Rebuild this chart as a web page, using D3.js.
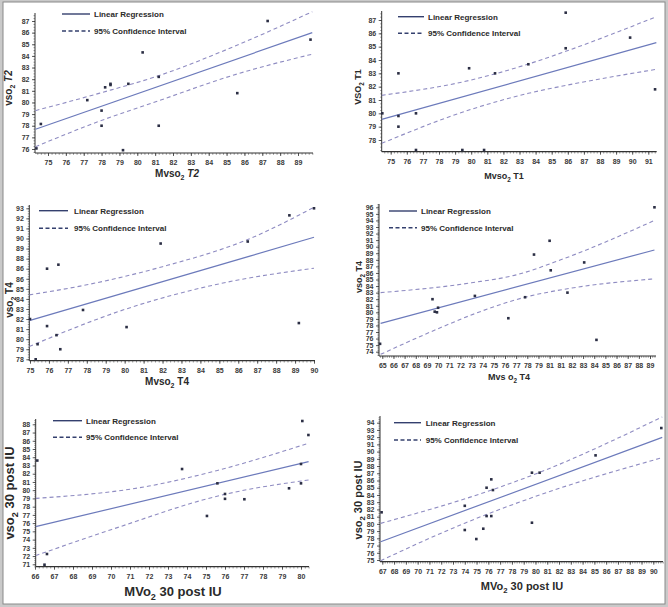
<!DOCTYPE html>
<html><head><meta charset="utf-8">
<script src="https://cdn.jsdelivr.net/npm/d3@7"></script>
<style>
body{margin:0;background:#fff}
svg{display:block}
text{font-family:"Liberation Sans Narrow","Arial Narrow","Liberation Sans",Arial,sans-serif;}
</style>
</head><body>
<svg id="c" width="668" height="607"></svg>
<script>
// ---------- DATA ----------
// Panel 1: Mvso2 T2 vs vso2 T2
const p1X = [74.35,74.6,77.2,78.0,78.0,78.2,78.5,78.5,79.5,79.2,80.3,81.2,81.2,85.6,87.3,89.7];
const p1Y = [76.05,78.15,80.2,79.3,78.0,81.3,81.5,81.6,81.6,75.9,84.3,82.2,78.0,80.8,87.0,85.4];
const p1Reg = [[74.3,77.7],[89.8,86.0]];
const p1Upper = [[74.3,79.3],[77.9,80.8],[81.2,82.3],[85.4,84.8],[89.8,87.8]];
const p1Lower = [[74.3,76.2],[77.9,78.4],[81.2,80.15],[85.6,82.45],[89.8,84.15]];
const p1XTicks = ["75","76","77","78","79","80","81","82","83","84","85","86","87","88","89"];
const p1YTicks = ["76","77","78","79","80","81","82","83","84","85","86","87"];

// Panel 2: Mvso2 T1 vs vso2 T1
const p2X = [74.48,75.48,75.48,75.48,76.57,76.57,79.45,79.87,80.8,81.48,83.55,85.87,85.87,89.87,91.42];
const p2Y = [80.0,83.0,79.8,79.0,80.0,77.25,77.25,83.38,77.25,83.0,83.68,87.55,84.88,85.68,81.8];
const p2Reg = [[74.44,79.55],[91.5,85.3]];
const p2Upper = [[74.44,81.35],[80,82.5],[83.55,83.7],[85.87,84.65],[91.5,87.25]];
const p2Lower = [[74.44,77.75],[80,80.3],[83.55,81.5],[85.9,82.1],[91.5,83.3]];
const p2XTicks = ["75","76","77","78","79","80","81","82","83","84","85","86","87","88","89","90","91"];
const p2YTicks = ["78","79","80","81","82","83","84","85","86","87"];

// Panel 3: Mvso2 T4 vs vso2 T4
const p3X = [75.0,75.3,75.4,75.9,75.9,76.4,76.5,76.6,77.8,80.1,81.9,86.5,88.7,89.2,90.0];
const p3Y = [82.0,78.0,79.5,87.0,81.3,80.4,87.4,79.0,82.9,81.2,89.5,89.7,92.3,81.6,93.0];
const p3Reg = [[74.96,81.84],[90.0,90.12]];
const p3Upper = [[74.96,84.4],[78,85.4],[82,87.2],[86.5,89.9],[90,93.1]];
const p3Lower = [[74.96,79.26],[76.4,80.4],[80,82.95],[85,85.5],[90,87.05]];
const p3XTicks = ["75","76","77","78","79","80","81","82","83","84","85","86","87","88","89","90"];
const p3YTicks = ["78","79","80","81","82","83","84","85","86","86","88","89","90","91","92","93"];

// Panel 4: Mvso2 T4 vs vso2 T4 (second group)
const p4X = [64.8,69.5,69.7,69.9,70.0,73.3,76.3,77.8,78.6,80.0,80.1,81.6,83.1,84.2,89.4];
const p4Y = [75.2,82.0,80.1,80.0,80.7,82.5,79.1,82.3,88.8,90.9,86.4,83.0,87.6,75.8,96.0];
const p4Reg = [[64.85,78.32],[89.4,89.5]];
const p4Upper = [[64.85,83.0],[73,84.5],[77,85.7],[81,88.0],[89.4,94.0]];
const p4Lower = [[64.85,73.6],[70,77.5],[73.3,79.8],[77.8,82.3],[82,83.7],[89.4,85.1]];
const p4XTicks = ["65","66","67","68","69","70","71","72","73","74","75","76","77","78","79","81","81","82","83","84","85","86","87","88","89"];
const p4YTicks = ["74","75","76","77","78","79","80","81","82","83","84","85","86","87","88","89","90","91","92","93","94","95","96"];

// Panel 5: MVo2 30 post IU vs vso2 30 post IU
const p5X = [66.12,66.5,66.63,73.74,75.05,75.6,76.0,76.0,77.02,79.37,80.0,80.0,80.07,80.39];
const p5Y = [83.6,70.95,72.25,82.57,76.87,80.83,79.54,78.95,78.9,80.23,83.18,80.83,88.4,86.7];
const p5Reg = [[66.03,75.57],[80.4,83.47]];
const p5Upper = [[66.03,79.0],[72,80.5],[75.6,82.4],[80.4,85.7]];
const p5Lower = [[66.03,72.05],[70,75.2],[76,79.5],[80.4,81.24]];
const p5XTicks = ["66","67","68","69","70","71","72","73","74","75","76","77","78","79","80"];
const p5YTicks = ["71","72","73","74","75","76","77","78","79","80","81","82","83","84","85","86","87","88"];

// Panel 6: MVo2 30 post IU vs vso2 30 post IU (second group)
const p6X = [66.94,74.0,74.0,74.98,75.57,75.85,75.85,76.25,76.25,76.39,79.7,79.7,80.35,85.1,90.68];
const p6Y = [81.6,82.5,79.15,77.9,79.33,85.0,81.08,86.16,81.08,84.68,87.08,80.16,87.08,89.48,93.26];
const p6Reg = [[66.86,77.53],[90.76,91.97]];
const p6Upper = [[66.86,80.07],[76.3,84.7],[80,86.9],[90.76,94.8]];
const p6Lower = [[66.86,74.9],[74,80.1],[80,83.8],[90.76,89.16]];
const p6XTicks = ["67","68","69","70","71","72","73","74","75","76","77","78","79","80","81","82","83","84","85","86","87","88","89","90"];
const p6YTicks = ["75","76","77","78","79","80","81","82","83","84","85","86","87","88","89","90","91","92","93","94"];

const legendLabels = ["Linear Regression","95% Confidence Interval"];

// ---------- LAYOUT ----------
const panels = [
  {X:p1X,Y:p1Y,reg:p1Reg,up:p1Upper,lo:p1Lower,xt:p1XTicks,yt:p1YTicks,
   xa:[75,48,89,298], ya:[76,149,87,21], box:[35,313,13,153],
   leg:[62,90,94,14,31], xl:{pre:"Mvso",post:" T2",it:true,x:177,y:177,fs:10}, yl:{pre:"vso",post:" T2",it:true,x:12,y:88,fs:10}},
  {X:p2X,Y:p2Y,reg:p2Reg,up:p2Upper,lo:p2Lower,xt:p2XTicks,yt:p2YTicks,
   xa:[75,390.7,91,648.3], ya:[78,140,87,20], box:[381.7,656.7,11,151.7],
   leg:[398,424,428,16.7,33.3], xl:{pre:"Mvso",post:" T1",it:false,x:504,y:179,fs:9}, yl:{pre:"VSO",post:" T1",it:false,x:361,y:87,fs:9}},
  {X:p3X,Y:p3Y,reg:p3Reg,up:p3Upper,lo:p3Lower,xt:p3XTicks,yt:p3YTicks,
   xa:[75,30,90,314], ya:[78,359.3,93,208.3], box:[29.3,315,205,360.7],
   leg:[39,68,74,210.7,228.3], xl:{pre:"Mvso",post:" T4",it:false,x:167,y:385,fs:10}, yl:{pre:"vso",post:" T4",it:false,x:13,y:300,fs:10}},
  {X:p4X,Y:p4Y,reg:p4Reg,up:p4Upper,lo:p4Lower,xt:p4XTicks,yt:p4YTicks,
   xa:[65,382.3,89,650], ya:[74,351.7,96,207.3], box:[379,656,204,356],
   leg:[389,417,421,211,227.7], xl:{pre:"Mvs o",post:" T4",it:false,x:509,y:380,fs:9}, yl:{pre:"vso",post:" T4",it:false,x:362,y:277,fs:9}},
  {X:p5X,Y:p5Y,reg:p5Reg,up:p5Upper,lo:p5Lower,xt:p5XTicks,yt:p5YTicks,
   xa:[66,35,80,301], ya:[71,564.3,88,424.3], box:[35.7,309,419,566.7],
   leg:[53,82,86,420.7,437.3], xl:{pre:"MVo",post:" 30 post IU",it:false,x:173,y:596,fs:13}, yl:{pre:"vso",post:" 30 post IU",it:false,x:14,y:493,fs:13}},
  {X:p6X,Y:p6Y,reg:p6Reg,up:p6Upper,lo:p6Lower,xt:p6XTicks,yt:p6YTicks,
   xa:[67,382.3,90,653.3], ya:[75,560,94,422.7], box:[380,663,416,561.7],
   leg:[394,421,425.7,422.7,440], xl:{pre:"MVo",post:" 30 post IU",it:false,x:522,y:590,fs:11}, yl:{pre:"vso",post:" 30 post IU",it:false,x:362,y:500,fs:11}}
];

const svg = d3.select("#c");
// frame
svg.append("rect").attr("x",0).attr("y",0).attr("width",668).attr("height",607).attr("fill","#c9c9c9");
svg.append("rect").attr("x",3).attr("y",2).attr("width",662).attr("height",602).attr("fill","#fff")
   .attr("stroke","#8a8a8a").attr("stroke-width",1);

const regColor = "#6c7abb", ciColor = "#8f8cc2", legColor = "#34406e", ptColor = "#2b2e44", axColor = "#333";

panels.forEach((p,pi) => {
  const g = svg.append("g");
  const [xl, xr, yt, yb] = p.box;
  const x = d3.scaleLinear().domain([p.xa[0],p.xa[2]]).range([p.xa[1],p.xa[3]]);
  const y = d3.scaleLinear().domain([p.ya[0],p.ya[2]]).range([p.ya[1],p.ya[3]]);
  const xTickVals = p.xt.map((d,i)=>p.xa[0]+i);
  const yTickVals = p.yt.map((d,i)=>p.ya[0]+i);

  const clipId = "clip"+pi;
  g.append("clipPath").attr("id",clipId).append("rect")
    .attr("x",xl).attr("y",yt-2).attr("width",xr-xl+2).attr("height",yb-yt+2);

  // minor ticks
  const xMin = x.invert(xl), xMax = x.invert(xr);
  const minorX = d3.range(Math.ceil(xMin*5), Math.floor(xMax*5)+1).map(v=>v/5);
  g.append("g").attr("transform",`translate(0,${yb})`)
    .call(d3.axisBottom(x).tickValues(minorX).tickSize(1.8).tickFormat(""))
    .call(s=>s.select(".domain").remove())
    .selectAll("line").attr("stroke","#555").attr("stroke-width",0.6);
  const yMin = y.invert(yb), yMax = y.invert(yt);
  const minorY = d3.range(Math.ceil(yMin*4), Math.floor(yMax*4)+1).map(v=>v/4);
  g.append("g").attr("transform",`translate(${xl},0)`)
    .call(d3.axisLeft(y).tickValues(minorY).tickSize(1.5).tickFormat(""))
    .call(s=>s.select(".domain").remove())
    .selectAll("line").attr("stroke","#555").attr("stroke-width",0.6);

  // major axes
  const gx = g.append("g").attr("transform",`translate(0,${yb})`)
    .call(d3.axisBottom(x).tickValues(xTickVals).tickSize(3).tickPadding(4).tickFormat((d,i)=>p.xt[i]));
  gx.select(".domain").remove();
  gx.selectAll("line").attr("stroke",axColor).attr("stroke-width",0.8);
  gx.selectAll("text").attr("font-size",7).attr("font-weight","bold").attr("fill","#3a3a3a");
  const gy = g.append("g").attr("transform",`translate(${xl},0)`)
    .call(d3.axisLeft(y).tickValues(yTickVals).tickSize(3).tickPadding(2.5).tickFormat((d,i)=>p.yt[i]));
  gy.select(".domain").remove();
  gy.selectAll("line").attr("stroke",axColor).attr("stroke-width",0.8);
  gy.selectAll("text").attr("font-size",7).attr("font-weight","bold").attr("fill","#3a3a3a");

  g.append("line").attr("x1",xl).attr("x2",xr).attr("y1",yb).attr("y2",yb).attr("stroke",axColor).attr("stroke-width",1.2);
  g.append("line").attr("x1",xl).attr("x2",xl).attr("y1",yt).attr("y2",yb).attr("stroke",axColor).attr("stroke-width",1);

  // lines
  const line = d3.line().x(d=>x(d[0])).y(d=>y(d[1])).curve(d3.curveMonotoneX);
  const lines = g.append("g").attr("clip-path",`url(#${clipId})`);
  lines.append("path").attr("d",line(p.up)).attr("fill","none").attr("stroke",ciColor).attr("stroke-width",1.1).attr("stroke-dasharray","4,3");
  lines.append("path").attr("d",line(p.lo)).attr("fill","none").attr("stroke",ciColor).attr("stroke-width",1.1).attr("stroke-dasharray","4,3");
  lines.append("path").attr("d",d3.line().x(d=>x(d[0])).y(d=>y(d[1]))(p.reg)).attr("fill","none").attr("stroke",regColor).attr("stroke-width",1.2);

  // points
  g.append("g").selectAll("rect").data(p.X.map((v,i)=>[v,p.Y[i]])).join("rect")
    .attr("x",d=>x(d[0])-1.3).attr("y",d=>y(d[1])-1.3).attr("width",2.6).attr("height",2.6).attr("fill",ptColor);

  // legend
  const [lx1,lx2,tx,ly1,ly2] = p.leg;
  g.append("line").attr("x1",lx1).attr("x2",lx2).attr("y1",ly1).attr("y2",ly1).attr("stroke",legColor).attr("stroke-width",1.4);
  g.append("line").attr("x1",lx1).attr("x2",lx2).attr("y1",ly2).attr("y2",ly2).attr("stroke",legColor).attr("stroke-width",1.4).attr("stroke-dasharray","4,2.5");
  [ly1,ly2].forEach((ly,i)=>{
    g.append("text").attr("x",tx).attr("y",ly+2.8).attr("font-size",8).attr("font-weight","bold").attr("fill","#2a2a2a").text(legendLabels[i]);
  });

  // axis titles
  function title(t, rotate){
    const tx = g.append("text").attr("text-anchor","middle").attr("font-size",t.fs).attr("font-weight","bold").attr("fill","#2a2a2a")
      .attr("transform", rotate ? `translate(${t.x},${t.y}) rotate(-90)` : `translate(${t.x},${t.y})`);
    tx.append("tspan").text(t.pre);
    tx.append("tspan").attr("font-size",t.fs*0.7).attr("dy",t.fs*0.3).text("2");
    const post = tx.append("tspan").attr("dy",-t.fs*0.3).text(t.post);
    if (t.it) post.attr("font-style","italic");
  }
  title(p.xl,false);
  title(p.yl,true);
});
</script>
</body></html>
